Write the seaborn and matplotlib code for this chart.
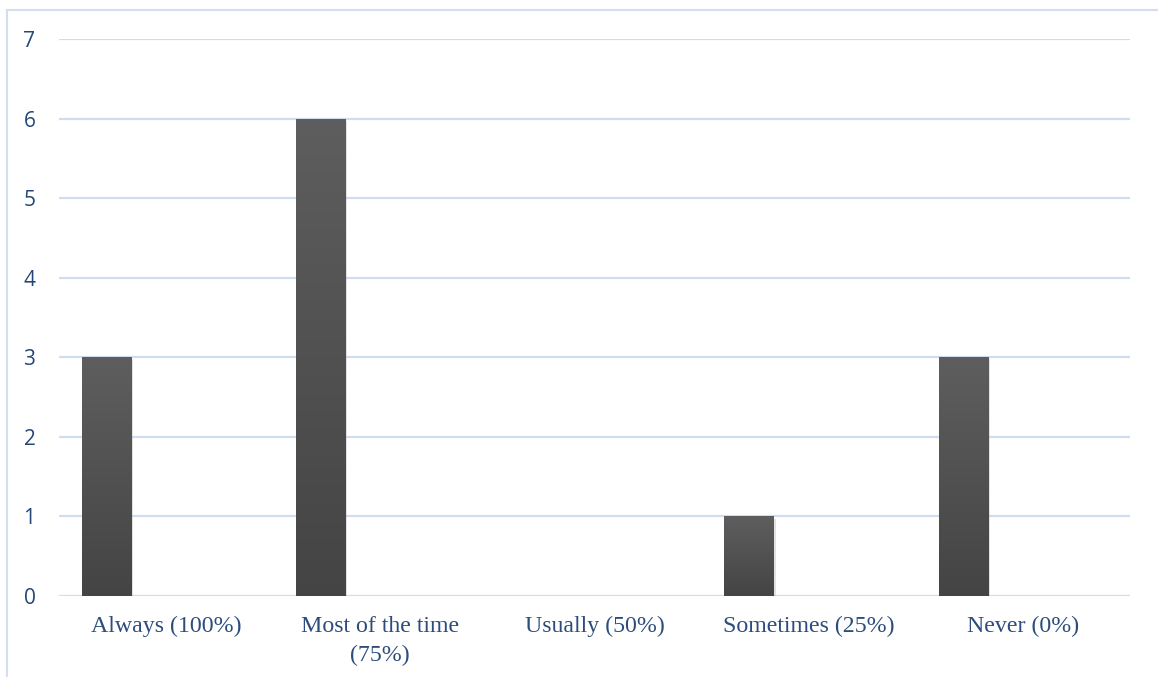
import numpy as np
import pandas as pd
import matplotlib
matplotlib.use("Agg")
import matplotlib.pyplot as plt
import seaborn as sns
from matplotlib.colors import LinearSegmentedColormap
from matplotlib.patches import Rectangle
import matplotlib.patheffects as pe

# Survey responses per frequency category
categories = ["Always (100%)", "Most of the time\n(75%)", "Usually (50%)",
              "Sometimes (25%)", "Never (0%)"]
counts = [3, 6, 0, 1, 3]
y_ticks = [0, 1, 2, 3, 4, 5, 6, 7]

sns.set_theme(style="white")

W, H = 1158, 677
fig = plt.figure(figsize=(W / 100, H / 100), dpi=100)
ax = fig.add_axes([59 / W, 81 / H, 1071 / W, 557 / H])

# bars sit in the left part of each category slot
bar_offset = -0.279
bar_width = 0.229
df = pd.DataFrame({"pos": np.arange(len(categories)) + bar_offset, "count": counts})
sns.barplot(data=df, x="pos", y="count", native_scale=True, width=bar_width,
            color="#4f4f4f", saturation=1, linewidth=0, ax=ax, zorder=3)

# vertical grey gradient inside each bar, with a soft drop shadow
grad_cmap = LinearSegmentedColormap.from_list("bar", ["#444444", "#5e5e5e"])
grad = np.linspace(0, 1, 256).reshape(-1, 1)
for patch in list(ax.patches):
    x0, y0 = patch.get_x(), patch.get_y()
    w, h = patch.get_width(), patch.get_height()
    if h <= 0:
        patch.set_visible(False)
        continue
    patch.set_path_effects([pe.SimplePatchShadow(offset=(1.5, -1.5), shadow_rgbFace="#a0a0a0",
                                                 alpha=0.3), pe.Normal()])
    img = ax.imshow(grad, extent=[x0, x0 + w, y0, y0 + h], origin="lower",
                    aspect="auto", cmap=grad_cmap, zorder=4)
    img.set_clip_path(patch)

ax.set_xlim(-0.5, len(categories) - 0.5)
ax.set_ylim(0, 7)
ax.set_aspect("auto")

ax.set_yticks(y_ticks)
ax.yaxis.grid(True, color="#d0ddf1", linewidth=1.6, zorder=0)
ax.xaxis.grid(False)
ax.set_axisbelow(True)
for s in ax.spines.values():
    s.set_visible(False)

ax.set_xticks(range(len(categories)))
ax.set_xticklabels(categories, fontfamily="Liberation Serif", fontsize=17.2,
                   color="#2c4d7c", linespacing=1.45)
ax.tick_params(axis="x", length=0, pad=14.5)
ax.tick_params(axis="y", length=0, pad=17, labelsize=15, labelcolor="#24477a")
for lab in ax.get_yticklabels():
    lab.set_fontfamily("Open Sans")
ax.set_xlabel("")
ax.set_ylabel("")

# light chart-area frame
fig.patches.append(Rectangle((6.5 / W, -0.1), 2, (H - 10) / H + 0.1,
                             transform=fig.transFigure, fill=False,
                             edgecolor="#d3def0", linewidth=1.5))

fig.savefig("out.png", dpi=100)
